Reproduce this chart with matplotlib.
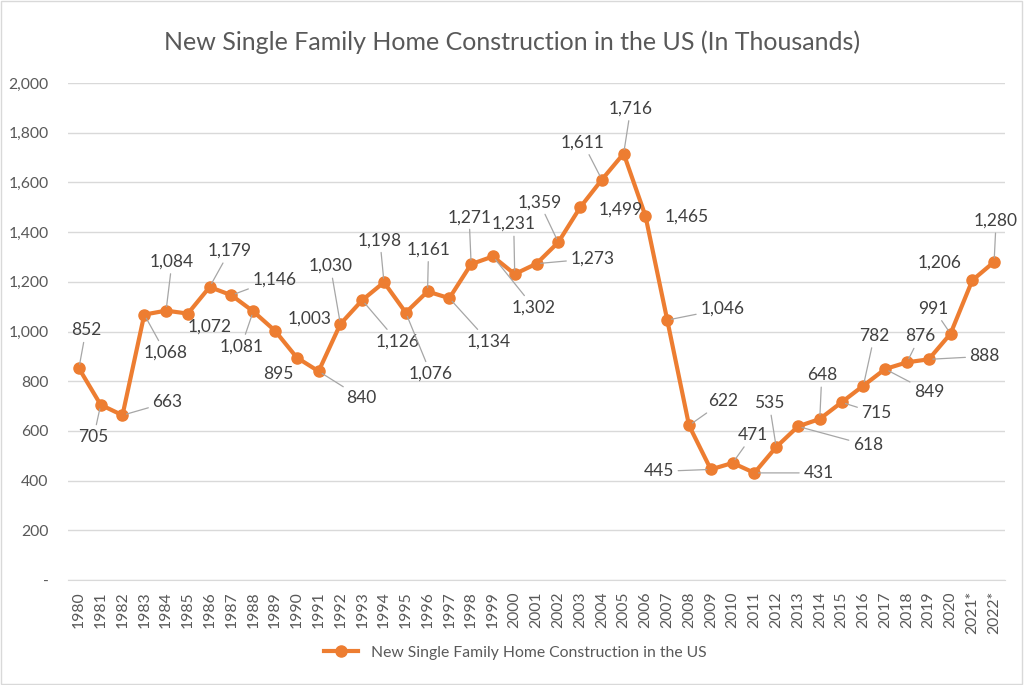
import matplotlib.pyplot as plt
from matplotlib.patches import Rectangle
from matplotlib.ticker import FuncFormatter

years = [str(y) for y in range(1980, 2021)] + ['2021*', '2022*']
homes = [852, 705, 663, 1068, 1084, 1072, 1179, 1146, 1081, 1003,
         895, 840, 1030, 1126, 1198, 1076, 1161, 1134, 1271, 1302,
         1231, 1273, 1359, 1499, 1611, 1716, 1465, 1046, 622, 445,
         471, 431, 535, 618, 648, 715, 782, 849, 876, 888,
         991, 1206, 1280]

# label placement (pixel offsets from the point, y down) and leader lines
label_offsets = [(7, -38), (-7, 32), (45, -13), (21, 38), (6, -49), (22, 13),
                 (20, -36), (43, -16), (-12, 35), (35, -12), (-18, 16), (43, 27),
                 (-10, -58), (35, 41), (-4, -42), (25, 61), (1, -42), (39, 43),
                 (-2, -47), (41, 51), (-1, -50), (56, -5), (-19, -40), (41, 2),
                 (-19, -37), (7, -45), (41, 1), (55, -11), (34, -24), (-52, 2),
                 (20, -28), (64, 0), (-7, -44), (70, 19), (2, -44), (35, 11),
                 (11, -50), (44, 23), (13, -26), (56, -3), (-17, -25), (-33, -18),
                 (2, -41)]
no_leader = {'1985', '1989', '1990', '2003', '2006', '2021*'}

orange = '#ED7D31'
grey_text = '#595959'

plt.rcParams['font.family'] = ['Lato', 'DejaVu Sans']

fig = plt.figure(figsize=(10.24, 6.85), dpi=100)
ax = fig.add_axes([68 / 1024, 105 / 685, 937 / 1024, 497 / 685])

x = list(range(len(years)))
ax.plot(x, homes, color=orange, lw=3, marker='o', markersize=8,
        label='New Single Family Home Construction in the US', zorder=3)

for i, (yr, v) in enumerate(zip(years, homes)):
    dx, dy = label_offsets[i]
    props = None
    if yr not in no_leader:
        props = dict(arrowstyle='-', color='#A6A6A6', lw=0.9, shrinkA=1, shrinkB=3)
    ax.annotate(f'{v:,}', (i, v), xytext=(dx, -dy), textcoords='offset pixels',
                ha='center', va='center', fontsize=12.5, color='#404040',
                arrowprops=props, zorder=4)

ax.set_xlim(-0.5, len(years) - 0.5)
ax.set_ylim(0, 2000)
ax.set_yticks(range(0, 2001, 200))
ax.yaxis.set_major_formatter(FuncFormatter(lambda v, p: '-' if v == 0 else f'{int(v):,}'))
ax.set_xticks(x)
ax.set_xticklabels(years, rotation=90)
ax.grid(axis='y', color='#D9D9D9', lw=1)
ax.set_axisbelow(True)
for s in ['top', 'right', 'left']:
    ax.spines[s].set_visible(False)
ax.spines['bottom'].set_color('#D9D9D9')
ax.tick_params(axis='both', length=0, labelsize=11.3, labelcolor=grey_text)
ax.tick_params(axis='y', pad=14)
ax.tick_params(axis='x', pad=8)

fig.suptitle('New Single Family Home Construction in the US (In Thousands)',
             y=0.955, fontsize=18, color=grey_text)

fig.legend(loc='center', bbox_to_anchor=(0.503, 0.047), frameon=False,
           fontsize=11.3, labelcolor=grey_text, handlelength=2.2)

fig.patches.append(Rectangle((0.001, 0.002), 0.997, 0.996, transform=fig.transFigure,
                             fill=False, edgecolor='#D9D9D9', lw=1))

fig.savefig('out.png', dpi=100)
